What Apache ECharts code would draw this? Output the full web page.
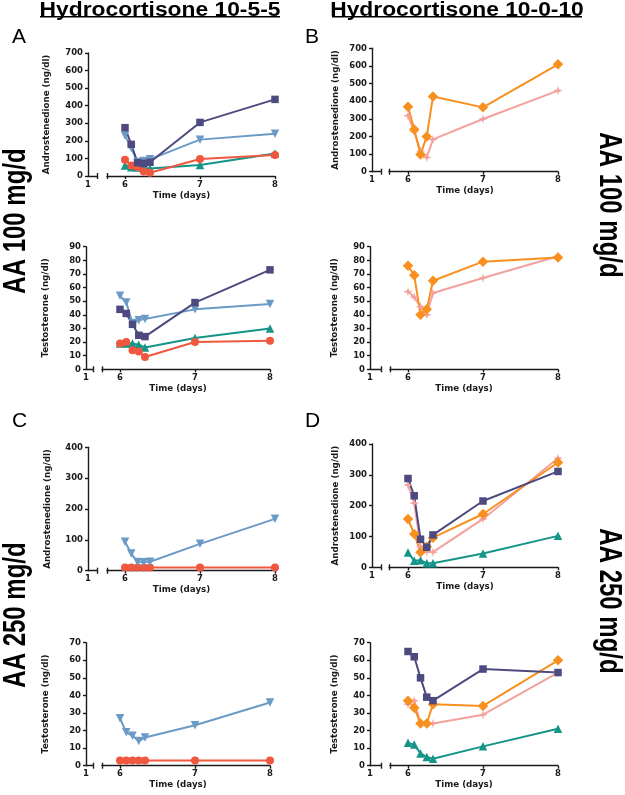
<!DOCTYPE html>
<html>
<head>
<meta charset="utf-8">
<script src="https://cdn.jsdelivr.net/npm/echarts@6/dist/echarts.min.js"></script>
<style>html,body{margin:0;padding:0;background:#fff;}#c{width:625px;height:795px;}</style>
</head>
<body>
<div id="c"></div>
<script>
// ---- data ----
const times = [6, 6.083, 6.167, 6.25, 6.333, 7, 8];
const xTickValues = [6, 7, 8];

// Panel A: Hydrocortisone 10-5-5, AA 100 mg/d
const aAndroPurple = [275, 180, 76, 72, 78, 305, 436];
const aAndroBlue   = [230, 160, 80, 85, 95, 207, 241];
const aAndroRed    = [93, 60, 50, 25, 18, 97, 120];
const aAndroTeal   = [60, 50, 48, 45, 42, 62, 128];
const aTestoPurple = [44, 41, 33, 25, 24, 49, 73];
const aTestoBlue   = [54, 49, 34, 36, 37, 44, 48];
const aTestoTeal   = [19, 19, 19, 18, 16, 23, 30];
const aTestoRed    = [19, 20, 14, 13, 9, 20, 21];
// Panel B: Hydrocortisone 10-0-10, AA 100 mg/d
const bAndroOrange = [369, 240, 98, 200, 426, 365, 609];
const bAndroPink   = [318, 227, 117, 81, 183, 299, 460];
const bTestoOrange = [76, 69, 40, 44, 65, 79, 82];
const bTestoPink   = [57, 53, 46, 40, 56, 67, 83];
// Panel C: Hydrocortisone 10-5-5, AA 250 mg/d
const cAndroBlue = [94, 56, 28, 27, 29, 87, 168];
const cAndroRed  = [10, 10, 10, 10, 10, 10, 10];
const cTestoBlue = [27, 19, 17, 14, 16, 23, 36];
const cTestoRed  = [3, 3, 3, 3, 3, 3, 3];
// Panel D: Hydrocortisone 10-0-10, AA 250 mg/d
const dAndroPurple = [288, 232, 91, 65, 105, 215, 311];
const dAndroOrange = [157, 108, 49, 67, 96, 173, 340];
const dAndroPink   = [267, 208, 67, 51, 49, 157, 354];
const dAndroTeal   = [48, 21, 23, 13, 13, 45, 102];
const dTestoPurple = [65, 62, 50, 39, 37, 55, 53];
const dTestoOrange = [37, 33, 24, 24, 35, 34, 60];
const dTestoPink   = [35, 37, 24, 24, 24, 29, 53];
const dTestoTeal   = [13, 12, 7, 5, 4, 11, 21];

const titles = ['Hydrocortisone 10-5-5', 'Hydrocortisone 10-0-10'];
const panelLetters = ['A', 'B', 'C', 'D'];
const doseLabels = ['AA 100 mg/d', 'AA 250 mg/d'];
const androName = 'Androstenedione (ng/dl)';
const testoName = 'Testosterone (ng/dl)';
const timeName = 'Time (days)';

// ---- styles ----
const FF = '"Liberation Sans", Arial, Helvetica, sans-serif';
const FA = '"DejaVu Sans", sans-serif';
const AX = '#1a1a1a';
const ST = {
  purple: {color: '#4d4a80', symbol: 'rect', size: 7.5, rot: 0},
  blue:   {color: '#6b9ac6', symbol: 'triangle', size: 8.5, rot: 180},
  red:    {color: '#f0573f', symbol: 'circle', size: 8, rot: 0},
  teal:   {color: '#159488', symbol: 'triangle', size: 8.5, rot: 0},
  orange: {color: '#f7901e', symbol: 'diamond', size: 10.5, rot: 0},
  pink:   {color: '#f4a19e', symbol: 'path://M5,0 L6,3.6 L10,5 L6,6.4 L5,10 L4,6.4 L0,5 L4,3.6 Z', size: 9.5, rot: 0}
};

const PX_PER_DAY = 75;
const panels = [
  {yx:88, b1:97, b2:107, x6:125, x8:275, top:53, bot:176, max:700, step:100, name:androName, gap:37,
   series:[['teal',aAndroTeal],['red',aAndroRed],['blue',aAndroBlue],['purple',aAndroPurple]]},
  {yx:86, b1:93, b2:102, x6:120, x8:270, top:246.7, bot:369.3, max:90, step:10, name:testoName, gap:36,
   series:[['teal',aTestoTeal],['red',aTestoRed],['blue',aTestoBlue],['purple',aTestoPurple]]},
  {yx:372, b1:381, b2:389, x6:408, x8:558, top:48.3, bot:171.7, max:700, step:100, name:androName, gap:32,
   series:[['pink',bAndroPink],['orange',bAndroOrange]]},
  {yx:370, b1:381, b2:390, x6:408, x8:558, top:246.7, bot:369.3, max:90, step:10, name:testoName, gap:31,
   series:[['pink',bTestoPink],['orange',bTestoOrange]]},
  {yx:88, b1:97, b2:107, x6:125, x8:275, top:447.3, bot:570.7, max:400, step:100, name:androName, gap:36,
   series:[['red',cAndroRed],['blue',cAndroBlue]]},
  {yx:86, b1:93, b2:102, x6:120, x8:270, top:642.7, bot:765.7, max:70, step:10, name:testoName, gap:36,
   series:[['red',cTestoRed],['blue',cTestoBlue]]},
  {yx:372, b1:381, b2:389, x6:408, x8:558, top:444, bot:567.3, max:400, step:100, name:androName, gap:32,
   series:[['teal',dAndroTeal],['pink',dAndroPink],['orange',dAndroOrange],['purple',dAndroPurple]]},
  {yx:370, b1:381, b2:390, x6:408, x8:558, top:642.7, bot:765.7, max:70, step:10, name:testoName, gap:31,
   series:[['teal',dTestoTeal],['pink',dTestoPink],['orange',dTestoOrange],['purple',dTestoPurple]]}
];

const grid = [], xAxis = [], yAxis = [], series = [];
const lab = {fontSize: 8.5, fontWeight: 'bold', color: AX, fontFamily: FA};
const nameStyle = {fontSize: 8.7, fontWeight: 'bold', color: AX, fontFamily: FA};
const axLine = {show: true, onZero: false, lineStyle: {color: AX, width: 1.4}};

panels.forEach((p, i) => {
  const h = p.bot - p.top;
  grid.push({left: p.yx, top: p.top, width: p.b1 - p.yx, height: h});
  grid.push({left: p.b2, top: p.top, width: p.x8 - p.b2, height: h});
  const gS = 2 * i, gM = 2 * i + 1;
  const sMax = 1 + (p.b1 - p.yx) / PX_PER_DAY;
  const mMin = 6 - (p.x6 - p.b2) / PX_PER_DAY;
  // small segment (value 1)
  xAxis.push({gridIndex: gS, type: 'value', position: 'bottom', min: 1, max: sMax,
    axisLine: axLine, splitLine: {show: false},
    axisTick: {show: true, customValues: [sMax], length: 3, lineStyle: {color: AX, width: 1.4}},
    axisLabel: Object.assign({customValues: [1], formatter: v => String(Math.round(v)), margin: 4}, lab)});
  xAxis.push({gridIndex: gS, type: 'value', position: 'bottom', min: 1, max: sMax,
    axisLine: {show: false}, splitLine: {show: false}, axisLabel: {show: false},
    axisTick: {show: true, inside: true, customValues: [sMax], length: 3, lineStyle: {color: AX, width: 1.4}}});
  // main segment (days 6-8)
  const nameShift = (p.b2 - p.yx);
  xAxis.push({gridIndex: gM, type: 'value', position: 'bottom', min: mMin, max: 8,
    axisLine: axLine, splitLine: {show: false},
    axisTick: {show: true, customValues: [mMin].concat(xTickValues), length: 3, lineStyle: {color: AX, width: 1.4}},
    axisLabel: Object.assign({customValues: xTickValues, formatter: v => String(Math.round(v)), margin: 4}, lab),
    name: timeName, nameLocation: 'middle', nameGap: 15,
    nameTextStyle: Object.assign({padding: [0, nameShift, 0, 0]}, nameStyle)});
  xAxis.push({gridIndex: gM, type: 'value', position: 'bottom', min: mMin, max: 8,
    axisLine: {show: false}, splitLine: {show: false}, axisLabel: {show: false},
    axisTick: {show: true, inside: true, customValues: [mMin], length: 3, lineStyle: {color: AX, width: 1.4}}});
  yAxis.push({gridIndex: gS, type: 'value', min: 0, max: p.max, interval: p.step,
    axisLine: axLine, splitLine: {show: false},
    axisTick: {show: true, length: 3, lineStyle: {color: AX, width: 1.4}},
    axisLabel: Object.assign({margin: 5}, lab),
    name: p.name, nameLocation: 'middle', nameGap: p.gap,
    nameTextStyle: nameStyle});
  yAxis.push({gridIndex: gM, type: 'value', min: 0, max: p.max, show: false, splitLine: {show: false}});
  p.series.forEach(([key, vals]) => {
    const s = ST[key];
    series.push({type: 'line', xAxisIndex: 4 * i + 2, yAxisIndex: 2 * i + 1,
      data: times.map((t, j) => [t, vals[j]]),
      symbol: s.symbol, symbolSize: s.size, symbolRotate: s.rot, showAllSymbol: true,
      lineStyle: {color: s.color, width: 2}, itemStyle: {color: s.color, opacity: 1},
      clip: false, animation: false, silent: true});
  });
});

const titleStyle = (t) => ({text: t, fill: '#000', font: 'bold 19.5px ' + FF, align: 'center', verticalAlign: 'top'});
const doseStyle = (t) => ({text: t, font: 'bold 24px ' + FF, fill: '#000', align: 'center', verticalAlign: 'middle'});
const graphic = [
  {type: 'text', x: 160, y: 1, scaleX: 1.17, style: titleStyle(titles[0])},
  {type: 'line', shape: {x1: 40, y1: 16.8, x2: 280, y2: 16.8}, style: {stroke: '#000', lineWidth: 1.5}},
  {type: 'text', x: 457, y: 1, scaleX: 1.17, style: titleStyle(titles[1])},
  {type: 'line', shape: {x1: 332, y1: 16.8, x2: 582, y2: 16.8}, style: {stroke: '#000', lineWidth: 1.5}},
  {type: 'text', x: 12, y: 27, style: {text: panelLetters[0], font: '21px ' + FF, fill: '#000'}},
  {type: 'text', x: 305, y: 27, style: {text: panelLetters[1], font: '21px ' + FF, fill: '#000'}},
  {type: 'text', x: 12, y: 411, style: {text: panelLetters[2], font: '21px ' + FF, fill: '#000'}},
  {type: 'text', x: 305, y: 411, style: {text: panelLetters[3], font: '21px ' + FF, fill: '#000'}},
  {type: 'text', x: 16, y: 221, rotation: Math.PI / 2, scaleY: 1.3, style: doseStyle(doseLabels[0])},
  {type: 'text', x: 16, y: 615, rotation: Math.PI / 2, scaleY: 1.3, style: doseStyle(doseLabels[1])},
  {type: 'text', x: 609, y: 205, rotation: -Math.PI / 2, scaleY: 1.3, style: doseStyle(doseLabels[0])},
  {type: 'text', x: 609, y: 601, rotation: -Math.PI / 2, scaleY: 1.3, style: doseStyle(doseLabels[1])}
];

const chart = echarts.init(document.getElementById('c'), null, {renderer: 'canvas'});
chart.setOption({backgroundColor: '#fff', animation: false, grid, xAxis, yAxis, series, graphic});
</script>
</body>
</html>
